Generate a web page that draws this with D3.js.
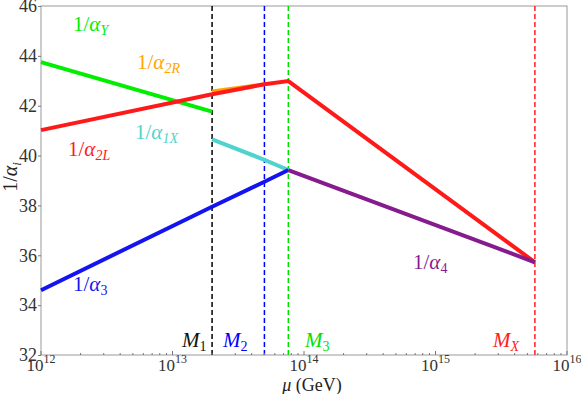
<!DOCTYPE html>
<html>
<head>
<meta charset="utf-8">
<script src="https://cdn.jsdelivr.net/npm/d3@7"></script>
<style>
  body { margin: 0; background: #fff; }
  svg { display: block; font-family: "Liberation Serif", "DejaVu Serif", serif; }
</style>
</head>
<body>
<svg width="581" height="394"></svg>
<script>
const width = 581;
const height = 394;
const margin = { top: 6, right: 14, bottom: 39, left: 41 };
const svg = d3.select("svg");

// thresholds (GeV)
const M1 = 2.0e13, M2 = 5.0e13, M3 = 7.6e13, MX = 5.7e15;

// running couplings, [mu, 1/alpha]
const alphaY = [[1e12, 43.75], [M1, 41.76]];
const alpha2L = [[1e12, 41.02], [M1, 42.46], [M2, 42.86], [M3, 42.99], [MX, 35.72]];
const alpha2R = [[M1, 42.57], [M2, 42.86]];
const alpha1X = [[M1, 40.65], [M2, 39.83], [M3, 39.42]];
const alpha3 = [[1e12, 34.6], [M1, 37.95], [M2, 38.95], [M3, 39.42]];
const alpha4 = [[M3, 39.42], [MX, 35.72]];

const xTicks = [1e12, 1e13, 1e14, 1e15, 1e16];
const xTickExp = ["12", "13", "14", "15", "16"];
const yTicks = [32, 34, 36, 38, 40, 42, 44, 46];

const x = d3.scaleLog().domain([1e12, 1e16]).range([margin.left, width - margin.right]);
const y = d3.scaleLinear().domain([32, 46]).range([height - margin.bottom, margin.top]);

const line = d3.line().x(d => x(d[0])).y(d => y(d[1]));

// frame
svg.append("rect")
  .attr("x", margin.left).attr("y", margin.top)
  .attr("width", width - margin.left - margin.right)
  .attr("height", height - margin.top - margin.bottom)
  .attr("fill", "none").attr("stroke", "#999").attr("stroke-width", 1);

// threshold lines
const vlines = [[M1, "black"], [M2, "blue"], [M3, "#00e000"], [MX, "#ff2020"]];
svg.selectAll(".vline")
  .data(vlines)
  .join("line")
  .attr("x1", d => x(d[0])).attr("x2", d => x(d[0]))
  .attr("y1", y(46)).attr("y2", y(32))
  .attr("stroke", d => d[1])
  .attr("stroke-width", 1.5)
  .attr("stroke-dasharray", "5,3");

// curves (order matters for overlap)
const curves = [
  [alphaY, "#00ee00"],
  [alpha2R, "#ffa500"],
  [alpha2L, "#ff1a1a"],
  [alpha1X, "#4fd3cf"],
  [alpha3, "#1414f0"],
  [alpha4, "#861b8e"]
];
svg.selectAll(".curve")
  .data(curves)
  .join("path")
  .attr("d", d => line(d[0]))
  .attr("fill", "none")
  .attr("stroke", d => d[1])
  .attr("stroke-width", 4)
  .attr("stroke-linejoin", "miter");

// y axis
const yAxis = svg.append("g")
  .attr("transform", `translate(${margin.left},0)`)
  .call(d3.axisLeft(y).tickValues(yTicks).tickSize(3).tickPadding(1));
yAxis.select(".domain").remove();
yAxis.selectAll("line").attr("stroke", "#777");
yAxis.selectAll("text")
  .attr("font-size", 18).attr("fill", "#333")
  .attr("font-family", "Liberation Serif, serif");

// x axis
const minor = [];
for (let e = 12; e < 16; e++) for (let k = 2; k < 10; k++) minor.push(k * Math.pow(10, e));
const xg = svg.append("g").attr("transform", `translate(0,${height - margin.bottom})`);
xg.selectAll(".minor")
  .data(minor)
  .join("line")
  .attr("x1", d => x(d)).attr("x2", d => x(d))
  .attr("y1", 0).attr("y2", -2)
  .attr("stroke", "#777");
xg.selectAll(".major")
  .data(xTicks)
  .join("line")
  .attr("x1", d => x(d)).attr("x2", d => x(d))
  .attr("y1", 0).attr("y2", -4)
  .attr("stroke", "#777");
const xt = xg.selectAll(".xt")
  .data(xTicks)
  .join("text")
  .attr("x", d => x(d))
  .attr("y", 16)
  .attr("text-anchor", "middle")
  .attr("font-size", 17)
  .attr("fill", "#333");
xt.append("tspan").text("10");
xt.append("tspan")
  .attr("dy", -8)
  .attr("font-size", 12)
  .text((d, i) => xTickExp[i]);

// axis titles
const xl = svg.append("text")
  .attr("x", 312).attr("y", 391)
  .attr("text-anchor", "middle")
  .attr("font-size", 18).attr("fill", "#222");
xl.append("tspan").attr("font-style", "italic").text("μ");
xl.append("tspan").text(" (GeV)");

const yl = svg.append("text")
  .attr("transform", "translate(17,177) rotate(-90)")
  .attr("text-anchor", "middle")
  .attr("font-size", 20).attr("fill", "#222");
yl.append("tspan").text("1/");
yl.append("tspan").attr("font-style", "italic").text("α");
yl.append("tspan").attr("font-style", "italic").attr("font-size", 13).attr("dy", 4).text("i");

// curve labels
const labels = [
  { x: 73, y: 31, c: "#00ee00", base: "α", sub: "Y", pre: "1/" },
  { x: 137, y: 69, c: "#ffa500", base: "α", sub: "2R", pre: "1/" },
  { x: 68, y: 156, c: "#ff1a1a", base: "α", sub: "2L", pre: "1/" },
  { x: 135, y: 139, c: "#4fd3cf", base: "α", sub: "1X", pre: "1/" },
  { x: 73, y: 291, c: "#1414f0", base: "α", sub: "3", pre: "1/" },
  { x: 413, y: 269, c: "#861b8e", base: "α", sub: "4", pre: "1/" },
  { x: 182, y: 347, c: "#111", base: "M", sub: "1", pre: "" },
  { x: 223, y: 347, c: "blue", base: "M", sub: "2", pre: "" },
  { x: 305, y: 347, c: "#00e000", base: "M", sub: "3", pre: "" },
  { x: 493, y: 347, c: "#ff2020", base: "M", sub: "X", pre: "" }
];
labels.forEach(l => {
  const t = svg.append("text")
    .attr("x", l.x).attr("y", l.y)
    .attr("font-size", 21).attr("fill", l.c);
  if (l.pre) t.append("tspan").text(l.pre);
  t.append("tspan").attr("font-style", "italic").text(l.base);
  t.append("tspan")
    .attr("font-size", 14).attr("dy", 4)
    .attr("font-style", /^\d$/.test(l.sub) ? "normal" : "italic")
    .text(l.sub);
});
</script>
</body>
</html>
